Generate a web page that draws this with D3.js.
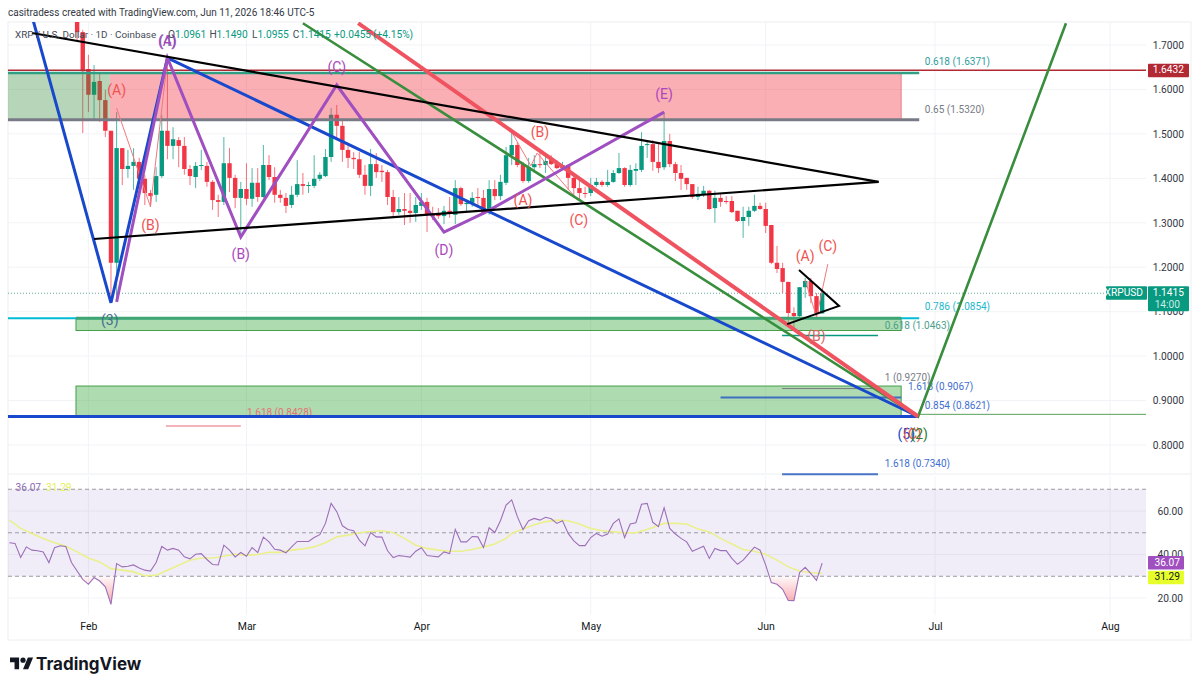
<!DOCTYPE html>
<html lang="en">
<head>
  <meta charset="UTF-8">
  <title>XRP / U.S. Dollar</title>
  <style>
    body { margin: 0; background: #fff; overflow: hidden; }
    svg { display: block; }
    text { font-family: Roboto, "Noto Sans", sans-serif; }
    .tick text { font-size: 10.2px; fill: #333844; }
    .fib { font-size: 10px; }
    .wave { font-size: 14px; text-anchor: middle; dominant-baseline: middle; }
  </style>
</head>
<body>
  <script src="https://d3js.org/d3.v7.min.js"></script>
  <script>
    // month/day, the day may be fractional for drawings between two bars
    const dt = s => {
      const [m, d] = s.split("/").map(Number);
      return new Date(Date.UTC(2026, m - 1, 1) + (d - 1) * 864e5);
    };

    const firstCandle = "1/30";
    // open, high, low, close per day from Jan 30 to Jun 11
    const ohlc = [
      [1.779,1.790,1.711,1.729],[1.729,1.734,1.502,1.641],[1.646,1.678,1.549,1.588],[1.588,1.655,1.531,1.617],
      [1.619,1.639,1.527,1.576],[1.576,1.599,1.493,1.507],[1.507,1.507,1.122,1.210],[1.210,1.549,1.122,1.468],
      [1.468,1.468,1.385,1.421],[1.421,1.464,1.401,1.428],[1.428,1.468,1.374,1.437],[1.437,1.446,1.374,1.399],
      [1.399,1.408,1.340,1.367],[1.367,1.374,1.336,1.360],[1.363,1.425,1.347,1.405],[1.405,1.543,1.401,1.507],
      [1.507,1.671,1.443,1.473],[1.473,1.515,1.443,1.488],[1.486,1.493,1.425,1.473],[1.473,1.493,1.408,1.421],
      [1.421,1.430,1.385,1.405],[1.403,1.437,1.378,1.428],[1.428,1.464,1.419,1.430],[1.428,1.437,1.381,1.392],
      [1.392,1.396,1.329,1.351],[1.351,1.363,1.313,1.347],[1.347,1.493,1.340,1.434],[1.434,1.468,1.369,1.401],
      [1.401,1.408,1.333,1.356],[1.356,1.392,1.270,1.376],[1.376,1.434,1.340,1.354],[1.354,1.423,1.336,1.390],
      [1.390,1.423,1.347,1.358],[1.358,1.475,1.356,1.430],[1.430,1.452,1.396,1.403],[1.403,1.425,1.345,1.363],
      [1.363,1.374,1.345,1.356],[1.356,1.367,1.322,1.338],[1.340,1.383,1.333,1.363],[1.363,1.441,1.358,1.387],
      [1.387,1.412,1.363,1.383],[1.383,1.392,1.367,1.385],[1.383,1.452,1.378,1.399],[1.399,1.414,1.394,1.408],
      [1.405,1.466,1.403,1.448],[1.448,1.558,1.437,1.543],[1.543,1.565,1.493,1.518],[1.518,1.531,1.437,1.464],
      [1.464,1.475,1.423,1.446],[1.446,1.459,1.421,1.443],[1.443,1.459,1.401,1.408],[1.408,1.430,1.363,1.383],
      [1.383,1.466,1.360,1.432],[1.432,1.457,1.401,1.414],[1.417,1.430,1.392,1.414],[1.414,1.419,1.340,1.358],
      [1.358,1.374,1.313,1.324],[1.324,1.358,1.318,1.331],[1.331,1.367,1.295,1.327],[1.327,1.367,1.300,1.322],
      [1.322,1.358,1.302,1.340],[1.338,1.367,1.329,1.347],[1.347,1.356,1.279,1.318],[1.320,1.336,1.306,1.315],
      [1.320,1.333,1.309,1.315],[1.315,1.338,1.297,1.327],[1.327,1.358,1.311,1.320],[1.318,1.396,1.297,1.378],
      [1.378,1.381,1.338,1.342],[1.342,1.347,1.324,1.345],[1.345,1.369,1.336,1.356],[1.358,1.378,1.340,1.356],
      [1.356,1.374,1.318,1.322],[1.322,1.396,1.318,1.376],[1.376,1.396,1.351,1.360],[1.360,1.408,1.351,1.392],
      [1.390,1.471,1.385,1.452],[1.452,1.504,1.430,1.475],[1.475,1.482,1.425,1.430],[1.432,1.437,1.390,1.394],
      [1.394,1.446,1.390,1.425],[1.425,1.452,1.412,1.432],[1.432,1.457,1.423,1.430],[1.430,1.457,1.412,1.439],
      [1.441,1.452,1.430,1.432],[1.432,1.441,1.421,1.423],[1.423,1.437,1.419,1.430],[1.430,1.432,1.374,1.401],
      [1.401,1.408,1.358,1.378],[1.378,1.396,1.351,1.367],[1.367,1.381,1.356,1.365],[1.367,1.401,1.360,1.385],
      [1.385,1.401,1.381,1.392],[1.392,1.396,1.381,1.385],[1.385,1.419,1.381,1.392],[1.392,1.419,1.390,1.412],
      [1.412,1.457,1.410,1.423],[1.423,1.425,1.381,1.385],[1.385,1.430,1.381,1.419],[1.417,1.434,1.385,1.421],
      [1.419,1.504,1.414,1.473],[1.475,1.482,1.446,1.477],[1.477,1.486,1.417,1.437],[1.437,1.480,1.412,1.423],
      [1.425,1.549,1.419,1.484],[1.484,1.500,1.425,1.432],[1.432,1.437,1.394,1.412],[1.412,1.430,1.374,1.399],
      [1.401,1.401,1.374,1.387],[1.387,1.387,1.354,1.358],[1.358,1.381,1.351,1.365],[1.363,1.383,1.358,1.372],
      [1.372,1.374,1.329,1.331],[1.333,1.372,1.300,1.356],[1.356,1.365,1.336,1.347],[1.349,1.360,1.342,1.347],
      [1.349,1.360,1.322,1.324],[1.327,1.327,1.302,1.304],[1.304,1.336,1.266,1.313],[1.313,1.336,1.293,1.327],
      [1.327,1.363,1.324,1.338],[1.338,1.345,1.329,1.331],[1.331,1.345,1.277,1.293],[1.295,1.295,1.207,1.210],
      [1.210,1.248,1.187,1.196],[1.198,1.210,1.142,1.167],[1.167,1.167,1.072,1.097],[1.097,1.110,1.059,1.090],
      [1.090,1.155,1.088,1.155],[1.155,1.176,1.131,1.169],[1.169,1.176,1.119,1.135],[1.135,1.142,1.088,1.097],
      [1.0961,1.149,1.0955,1.1415]
    ];

    const rsiStart = "1/18";
    // one value per day from Jan 18 to Jun 11
    const rsi = [
      45.4,45.1,38.6,43.5,42.0,41.7,41.2,36.3,43.1,44.0,43.7,36.3,32.4,28.6,26.3,29.4,27.8,25.1,17.1,35.8,
      34.3,34.6,35.2,33.8,32.8,32.4,36.3,43.7,42.0,42.8,42.0,38.9,38.0,40.1,40.4,37.7,35.4,35.2,44.3,42.0,
      38.9,40.9,39.2,43.2,40.9,48.0,45.8,42.4,42.0,40.8,43.5,46.0,46.0,46.0,47.8,49.1,54.3,63.5,59.7,53.2,
      51.5,50.9,46.6,44.0,50.1,48.1,48.0,41.7,38.6,39.5,39.2,38.8,41.5,43.1,39.5,39.2,38.9,41.2,
      40.4,51.5,45.8,45.8,48.3,48.1,43.2,52.3,50.1,55.5,62.7,65.1,57.4,51.5,55.5,56.6,55.8,57.1,56.4,54.3,
      55.5,49.7,46.3,44.1,44.1,47.8,49.7,48.4,49.4,54.3,56.4,47.8,54.0,54.6,63.1,63.5,54.8,52.8,61.5,52.0,
      49.4,47.4,45.8,41.5,42.6,43.8,38.2,42.8,41.8,41.8,38.2,35.5,37.4,40.4,43.4,42.0,35.1,27.1,26.3,24.0,
      18.9,18.8,31.7,34.1,31.2,28.1,36.07
    ];
    // RSI moving average: days after Jan 18, value
    const rsiMaDays = [0,2,4,6,8,10,12,14,16,18,20,22,24,26,28,30,32,34,36,38,40,42,44,46,48,50,52,54,56,58,60,62,64,66,68,70,72,74,76,78,
      80,82,84,86,88,89,91,93,95,97,99,101,103,105,107,109,111,113,115,116,118,120,122,124,126,128,130,132,134,136,138,140,142,144];
    const rsiMaValues = [55.8,52.0,49.7,47.4,45.4,43.8,41.2,38.4,36.6,33.5,32.8,32.0,30.2,30.4,32.8,35.1,37.4,38.4,38.4,39.2,
      40.1,39.7,40.0,41.0,41.0,42.0,42.6,43.5,45.4,48.1,48.9,50.0,50.6,50.9,50.1,47.4,44.3,42.8,42.0,41.5,
      41.5,42.3,43.5,44.8,47.4,49.7,51.7,53.7,55.1,55.8,55.5,54.0,52.0,50.9,50.4,50.0,50.0,51.5,53.5,54.3,54.3,54.0,51.7,50.4,47.4,44.8,42.3,41.5,40.1,37.4,34.3,32.4,31.7,31.29];

    const priceTicks = [1.7, 1.6, 1.5, 1.4, 1.3, 1.2, 1.1, 1.0, 0.9, 0.8];
    const rsiTicks = [60, 40, 20];
    const rsiBands = [70, 50, 30];
    const monthTicks = ["2/1", "3/1", "4/1", "5/1", "6/1", "7/1", "8/1"];
    const monthNames = ["Feb", "Mar", "Apr", "May", "Jun", "Jul", "Aug"];

    // drawings, as date / price
    const blackUpper = [["1/22", 1.727], ["6/21", 1.392]];
    const blackLower = [["2/2", 1.2635], ["6/21", 1.392]];
    const blackSmall = [["6/6.9", 1.194], ["6/14", 1.113], ["6/4.8", 1.072]];
    const blueWave = [["1/22", 1.765], ["2/5", 1.120], ["2/15", 1.671], ["6/28", 0.8641]];
    const blueFloor = [["1/1", 0.8641], ["6/28", 0.8641]];
    const purpleWave = [["2/6", 1.122], ["2/15", 1.671], ["2/28", 1.268], ["3/17", 1.610], ["4/5", 1.279], ["4/12.4", 1.324], ["5/14", 1.549]];
    const greenWave = [["3/11", 1.749], ["6/28", 0.8641], ["7/24.2", 1.749]];
    const redWave = [["3/20.8", 1.749], ["6/28", 0.8641]];
    const thinRedWaves = [
      [["2/6", 1.558], ["2/12", 1.336], ["2/15", 1.666]],
      [["4/17", 1.504], ["4/20.4", 1.428], ["4/21.5", 1.457], ["4/28.7", 1.351]],
      [["6/8", 1.171], ["6/10", 1.088], ["6/12", 1.207]]
    ];

    // from, to, price top, price bottom
    const zones = [
      { from: "1/1", to: "2/4.8", top: 1.6371, bottom: 1.532, fill: "rgba(56,142,60,.36)" },
      { from: "2/4.8", to: "6/25", top: 1.6371, bottom: 1.532, fill: "rgba(242,54,69,.4)" },
      { from: "1/29.8", to: "6/25", top: 1.0854, bottom: 1.0576, fill: "rgba(76,175,80,.45)", edge: "#43a047" },
      { from: "1/29.8", to: "6/25", top: 0.9327, bottom: 0.8641, fill: "rgba(76,175,80,.45)", edge: "#43a047" }
    ];
    const fibLines = [
      { from: "1/1", to: "6/28.2", price: 1.5320, color: "#787b86", width: 3 },
      { from: "1/1", to: "6/28.2", price: 1.6371, color: "#2f9e83", width: 2.5 },
      { from: "1/1", to: "9/1", price: 1.6432, color: "#b22833", width: 1.5 },
      { from: "1/1", to: "6/28.2", price: 1.0854, color: "#00bcd4", width: 2 },
      { from: "1/29.8", to: "6/25", price: 1.0854, color: "#3fa372", width: 3 },
      { from: "6/3.9", to: "6/20.9", price: 1.0463, color: "#089981", width: 1.5 },
      { from: "6/3.9", to: "6/20.9", price: 0.9270, color: "#787b86", width: 1 },
      { from: "5/24", to: "6/25", price: 0.9067, color: "#3f6fc0", width: 2 },
      { from: "6/28", to: "9/1", price: 0.8690, color: "#5aa05a", width: 1 },
      { from: "2/14.75", to: "2/28", price: 0.8428, color: "#f09aa2", width: 1.5 },
      { from: "6/3.9", to: "6/20.9", price: 0.7340, color: "#4a74c4", width: 2 }
    ];
    const fibLabels = [
      ["0.618 (1.6371)", "6/29.2", 1.6617, "#2f9e9e"],
      ["0.65 (1.5320)", "6/29.2", 1.5537, "#787b86"],
      ["0.786 (1.0854)", "6/29.2", 1.1105, "#22b8cf"],
      ["0.618 (1.0463)", "6/22.1", 1.0677, "#4d9e8c"],
      ["1 (0.9270)", "6/22.1", 0.9507, "#787b86"],
      ["1.618 (0.9067)", "6/26.2", 0.9305, "#3f6fd0"],
      ["0.854 (0.8621)", "6/29.2", 0.8866, "#3f6fd0"],
      ["1.618 (0.7340)", "6/22.1", 0.7572, "#3f6fd0"],
      ["1.618 (0.8428)", "3/1.1", 0.8720, "#e57373"]
    ];
    const waveLabels = [
      ["(4)", "2/15", 1.7067, "#5e5aa8"], ["(A)", "2/15", 1.7067, "#ab47bc"], ["(B)", "2/28", 1.2274, "#ab47bc"],
      ["(C)", "3/17", 1.6482, "#ab47bc"], ["(D)", "4/5", 1.2365, "#ab47bc"], ["(E)", "5/14", 1.5875, "#ab47bc"],
      ["(3)", "2/4.8", 1.0790, "#3f6f8f"],
      ["(A)", "2/6", 1.5965, "#ef5350"], ["(B)", "2/12", 1.2927, "#ef5350"], ["(B)", "4/22", 1.5020, "#ef5350"],
      ["(A)", "4/19", 1.3490, "#ef5350"], ["(C)", "4/28.9", 1.3040, "#ef5350"], ["(A)", "6/8", 1.2230, "#ef5350"],
      ["(C)", "6/12", 1.2455, "#ef5350"], ["(B)", "6/10", 1.0430, "#d9675f"],
      ["(5)", "6/25.9", 0.8225, "#1848cc"], ["(C)", "6/27", 0.8225, "#ef5350"], ["(2)", "6/28.2", 0.8225, "#2e7d32"]
    ];

    const width = 1200, height = 689;
    const paneLeft = 8, paneRight = 1146, axisRight = 1191;
    const mainTop = 22, mainBottom = 474, rsiTop = 476, rsiBottom = 615, frameBottom = 640;
    const green = "#089981", red = "#f23645";

    const x = d3.scaleUtc().domain([dt("2/1"), dt("8/1")]).range([88.4, 1110]);
    const y = d3.scaleLinear().domain([1.7, 0.8]).range([45, 445]);
    const yRsi = d3.scaleLinear().domain([60, 20]).range([511, 598]);
    const addDays = (s, n) => new Date(+dt(s) + n * 864e5);

    const svg = d3.select("body").append("svg").attr("width", width).attr("height", height);
    const defs = svg.append("defs");
    defs.append("clipPath").attr("id", "clip-main").append("rect")
      .attr("x", paneLeft).attr("y", mainTop).attr("width", paneRight - paneLeft).attr("height", mainBottom - mainTop + 2);
    defs.append("clipPath").attr("id", "clip-rsi").append("rect")
      .attr("x", paneLeft).attr("y", rsiTop).attr("width", paneRight - paneLeft).attr("height", rsiBottom - rsiTop);
    defs.append("clipPath").attr("id", "clip-low").append("rect")
      .attr("x", paneLeft).attr("y", yRsi(30)).attr("width", paneRight - paneLeft).attr("height", rsiBottom - yRsi(30));
    const grad = defs.append("linearGradient").attr("id", "oversold").attr("gradientUnits", "userSpaceOnUse")
      .attr("x1", 0).attr("x2", 0).attr("y1", yRsi(30)).attr("y2", yRsi(18));
    grad.append("stop").attr("offset", 0).attr("stop-color", "#f23645").attr("stop-opacity", 0.03);
    grad.append("stop").attr("offset", 1).attr("stop-color", "#f23645").attr("stop-opacity", 0.42);

    // frame
    svg.append("rect").attr("x", paneLeft).attr("y", mainTop).attr("width", axisRight - paneLeft).attr("height", frameBottom - mainTop)
      .attr("fill", "none").attr("stroke", "#eceef2");
    svg.append("line").attr("x1", paneLeft).attr("x2", axisRight).attr("y1", mainBottom).attr("y2", mainBottom).attr("stroke", "#eceef2");

    // grid
    const grid = svg.append("g").attr("stroke", "#f2f3f6");
    grid.selectAll(".h").data(priceTicks).enter().append("line")
      .attr("x1", paneLeft).attr("x2", paneRight).attr("y1", d => y(d)).attr("y2", d => y(d));
    grid.selectAll(".r").data(rsiTicks).enter().append("line")
      .attr("x1", paneLeft).attr("x2", paneRight).attr("y1", d => yRsi(d)).attr("y2", d => yRsi(d));
    [[mainTop, mainBottom], [rsiTop, rsiBottom]].forEach(([a, b]) => {
      grid.append("g").selectAll("line").data(monthTicks).enter().append("line")
        .attr("x1", d => x(dt(d))).attr("x2", d => x(dt(d))).attr("y1", a).attr("y2", b);
    });

    const main = svg.append("g").attr("clip-path", "url(#clip-main)");

    // last price line
    main.append("line").attr("x1", paneLeft).attr("x2", 1106)
      .attr("y1", y(ohlc[ohlc.length - 1][3])).attr("y2", y(ohlc[ohlc.length - 1][3]))
      .attr("stroke", "#5fa89b").attr("stroke-dasharray", "1 2");

    // candles
    const candle = main.append("g").selectAll("g").data(ohlc).enter().append("g")
      .attr("transform", (d, i) => `translate(${x(addDays(firstCandle, i))},0)`);
    candle.append("line")
      .attr("y1", d => y(d[1])).attr("y2", d => y(d[2]))
      .attr("stroke", d => d[3] >= d[0] ? green : red).attr("stroke-opacity", 0.7);
    candle.append("rect")
      .attr("x", -2.2).attr("width", 4.4)
      .attr("y", d => y(Math.max(d[0], d[3])))
      .attr("height", d => Math.max(1, Math.abs(y(d[0]) - y(d[3]))))
      .attr("fill", d => d[3] >= d[0] ? green : red);

    // zones
    main.append("g").selectAll("rect").data(zones).enter().append("rect")
      .attr("x", d => x(dt(d.from))).attr("width", d => x(dt(d.to)) - x(dt(d.from)))
      .attr("y", d => y(d.top)).attr("height", d => y(d.bottom) - y(d.top))
      .attr("fill", d => d.fill).attr("stroke", d => d.edge || "none");
    main.append("line").attr("x1", x(dt("6/25"))).attr("x2", x(dt("6/25")))
      .attr("y1", y(1.6371)).attr("y2", y(1.532)).attr("stroke", "#e8808a");

    // fib levels
    main.append("g").selectAll("line").data(fibLines).enter().append("line")
      .attr("x1", d => x(dt(d.from))).attr("x2", d => x(dt(d.to)))
      .attr("y1", d => y(d.price)).attr("y2", d => y(d.price))
      .attr("stroke", d => d.color).attr("stroke-width", d => d.width);
    main.append("g").selectAll("text").data(fibLabels).enter().append("text")
      .attr("class", "fib").attr("dominant-baseline", "middle")
      .attr("x", d => x(dt(d[1]))).attr("y", d => y(d[2])).attr("fill", d => d[3]).text(d => d[0]);

    // drawings
    const path = d3.line().x(d => x(dt(d[0]))).y(d => y(d[1]));
    const draw = (pts, color, w) => main.append("path").attr("d", path(pts)).attr("fill", "none")
      .attr("stroke", color).attr("stroke-width", w).attr("stroke-linejoin", "miter");
    thinRedWaves.forEach(p => draw(p, "#ef7a80", 1));
    draw(blueFloor, "#1848cc", 3);
    draw(blueWave, "#1848cc", 3);
    draw(greenWave, "#388e3c", 2.6);
    draw(redWave, "#ef5360", 4);
    draw(purpleWave, "#9f4fc0", 3);
    draw(blackUpper, "#000", 2.2);
    draw(blackLower, "#000", 2.2);
    draw(blackSmall, "#000", 2);

    main.append("g").selectAll("text").data(waveLabels).enter().append("text")
      .attr("class", "wave")
      .attr("x", d => x(dt(d[1]))).attr("y", d => y(d[2])).attr("fill", d => d[3]).text(d => d[0]);

    // RSI pane
    const rsiPane = svg.append("g").attr("clip-path", "url(#clip-rsi)");
    rsiPane.append("rect").attr("x", paneLeft).attr("width", paneRight - paneLeft)
      .attr("y", yRsi(70)).attr("height", yRsi(30) - yRsi(70)).attr("fill", "rgba(126,87,194,.11)");
    rsiPane.selectAll(".band").data(rsiBands).enter().append("line")
      .attr("x1", paneLeft).attr("x2", paneRight).attr("y1", d => yRsi(d)).attr("y2", d => yRsi(d))
      .attr("stroke", "#9a9ba3").attr("stroke-dasharray", "4 3");
    const rsiX = (d, i) => x(addDays(rsiStart, i));
    rsiPane.append("path").attr("clip-path", "url(#clip-low)")
      .attr("d", d3.area().x(rsiX).y0(yRsi(30)).y1(d => yRsi(d))(rsi))
      .attr("fill", "url(#oversold)");
    rsiPane.append("path")
      .attr("d", d3.line().x(d => x(addDays(rsiStart, d))).y((d, i) => yRsi(rsiMaValues[i]))(rsiMaDays))
      .attr("fill", "none").attr("stroke", "#eaf08c").attr("stroke-width", 1.6);
    rsiPane.append("path")
      .attr("d", d3.line().x(rsiX).y(d => yRsi(d))(rsi))
      .attr("fill", "none").attr("stroke", "#9c6fb8").attr("stroke-width", 1.1);

    // axes
    const yAxis = svg.append("g").attr("transform", "translate(1184,0)")
      .call(d3.axisLeft(y).tickValues(priceTicks).tickSize(0).tickPadding(0).tickFormat(d3.format(".4f")));
    const rsiAxis = svg.append("g").attr("transform", "translate(1183,0)")
      .call(d3.axisLeft(yRsi).tickValues(rsiTicks).tickSize(0).tickPadding(0).tickFormat(d3.format(".2f")));
    const xAxis = svg.append("g").attr("transform", `translate(0,${rsiBottom + 8})`)
      .call(d3.axisBottom(x).tickValues(monthTicks.map(dt)).tickSize(0).tickPadding(0)
        .tickFormat((d, i) => monthNames[i]));
    [yAxis, rsiAxis, xAxis].forEach(a => a.select(".domain").remove());
    xAxis.selectAll("text").style("fill", "#131722").style("font-size", "10.5px");

    // price tags
    const tag = (xp, yTop, w, h, fill) => svg.append("rect").attr("x", xp).attr("y", yTop).attr("width", w).attr("height", h).attr("rx", 1).attr("fill", fill);
    const tagText = (xp, yp, s, fill, size, anchor) => svg.append("text").attr("x", xp).attr("y", yp)
      .attr("text-anchor", anchor || "end").attr("dominant-baseline", "middle")
      .attr("font-size", size || 10.2).attr("fill", fill).text(s);
    const tagY = p => y(p);
    tag(1148, tagY(1.6432) - 6.5, 41, 13.5, "#b22833");
    tagText(1184, tagY(1.6432), "1.6432", "#fff");
    tag(1106, tagY(1.1415) - 7, 41, 13.5, green);
    tagText(1143, tagY(1.1415), "XRPUSD", "#fff");
    tag(1148, tagY(1.1415) - 7, 41, 25, green);
    tagText(1184, tagY(1.1415), "1.1415", "#fff");
    tagText(1180, tagY(1.1415) + 12, "14:00", "#c8ece4");
    tag(1148, 556, 36, 13.5, "#a04fc0");
    tagText(1180, 563, "36.07", "#fff");
    tag(1148, 570.7, 36, 13.5, "#e6ff2a");
    tagText(1180, 577.7, "31.29", "#131722");

    // header
    svg.append("text").attr("x", 8).attr("y", 13).attr("dominant-baseline", "middle")
      .attr("font-size", 10).attr("fill", "#333844")
      .text("casitradess created with TradingView.com, Jun 11, 2026 18:46 UTC-5");
    tagText(15, 35, "XRP / U.S. Dollar · 1D · Coinbase", "#444a58", 9.9, "start");
    const legendRuns = [["O", 168, "#444a58"], ["1.0961", 175, green], ["H", 209.5, "#444a58"], ["1.1490", 216.5, green],
      ["L", 252, "#444a58"], ["1.0955", 257.5, green], ["C", 292.7, "#444a58"], ["1.1415", 299.5, green],
      ["+0.0455", 334, green], ["(+4.15%)", 373, green]];
    legendRuns.forEach(r => tagText(r[1], 35, r[0], r[2], 10.2, "start"));

    tagText(15.5, 488, "36.07", "#8b6ab0", 10.2, "start");
    tagText(46, 488, "31.29", "#e4ee55", 10.2, "start");

    // logo
    const logo = svg.append("g").attr("transform", "translate(10,655) scale(.65)").attr("fill", "#131722");
    logo.append("path").attr("d", "M14 22H7V11H0V4h14v18zM28 22h-8l7.5-18h8L28 22z");
    logo.append("circle").attr("cx", 20).attr("cy", 8).attr("r", 4);
    svg.append("text").attr("x", 36).attr("y", 665).attr("dominant-baseline", "middle")
      .attr("font-size", 17).attr("font-weight", 700).attr("fill", "#131722").style("font-family", "Inter").text("TradingView");
  </script>
</body>
</html>
